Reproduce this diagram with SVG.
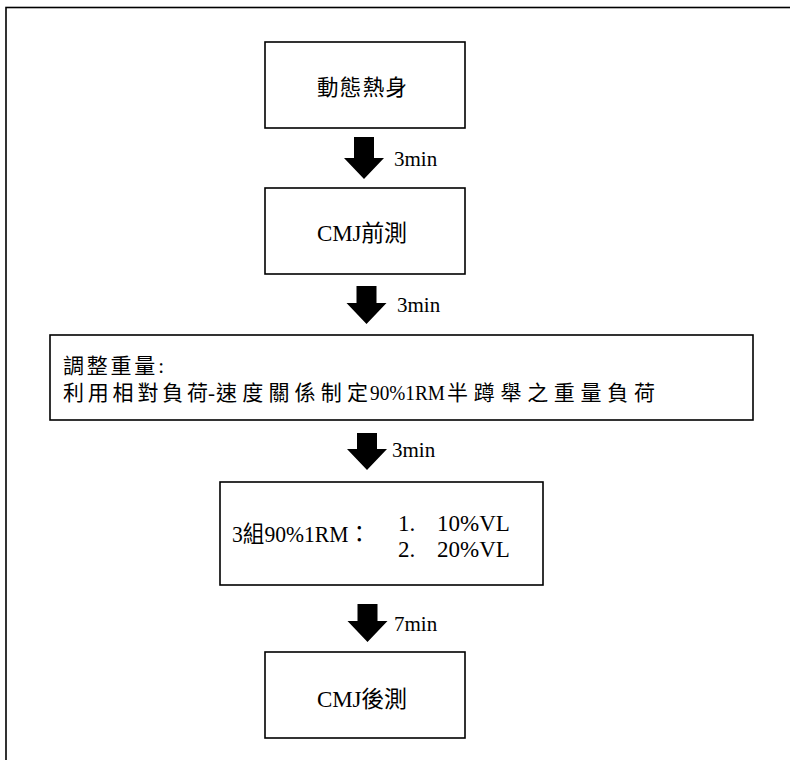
<svg xmlns="http://www.w3.org/2000/svg" width="790" height="760" viewBox="0 0 790 760">
<style>
.box{fill:#fff;stroke:#000;stroke-width:1.6}
.t{font-family:"Liberation Serif","Noto Sans CJK TC",serif;fill:#000}
.lbl{font-family:"Liberation Serif","Noto Sans CJK TC",serif;font-size:21px;fill:#000}
.arr{fill:#000}
</style>
<rect x="0" y="0" width="790" height="760" fill="#fff"/>
<rect x="6" y="7.5" width="800" height="800" fill="none" stroke="#000" stroke-width="1.6"/>
<g id="connectors">
<path class="arr" d="M354,137 H374 V158 H384 L364,179 L344,158 H354 Z"/>
<path class="arr" d="M356.5,286 H376.5 V303 H386.5 L366.5,324 L346.5,303 H356.5 Z"/>
<path class="arr" d="M357,433 H377 V449 H387 L367,470 L347,449 H357 Z"/>
<path class="arr" d="M357.5,604 H377.5 V621 H387.5 L367.5,642 L347.5,621 H357.5 Z"/>
<text class="lbl" x="394" y="166">3min</text>
<text class="lbl" x="397" y="312">3min</text>
<text class="lbl" x="392" y="457">3min</text>
<text class="lbl" x="394" y="631">7min</text>
</g>
<g id="n1">
<rect class="box" x="265" y="42" width="200" height="86"/>
<text class="t" x="317" y="95" font-size="21.5" textLength="90" lengthAdjust="spacing">動態熱身</text>
</g>
<g id="n2">
<rect class="box" x="265" y="188" width="200" height="86"/>
<text class="t" x="317" y="241" font-size="23" textLength="90" lengthAdjust="spacing">CMJ前測</text>
</g>
<g id="n3">
<rect class="box" x="50" y="335" width="703" height="85"/>
<text class="t" x="63" y="373" font-size="21" textLength="101" lengthAdjust="spacing">調整重量:</text>
<text class="t" y="400" font-size="21"><tspan x="63" textLength="145" lengthAdjust="spacing">利用相對負荷</tspan><tspan x="208">-</tspan><tspan x="216" textLength="152" lengthAdjust="spacing">速度關係制定</tspan><tspan x="370" font-size="20" textLength="75" lengthAdjust="spacingAndGlyphs">90%1RM</tspan><tspan x="447" textLength="208" lengthAdjust="spacing">半蹲舉之重量負荷</tspan></text>
</g>
<g id="n4">
<rect class="box" x="220" y="482" width="323" height="103"/>
<text class="t" x="232" y="542" font-size="23" textLength="138" lengthAdjust="spacingAndGlyphs">3組90%1RM：</text>
<text class="t" x="398" y="531" font-size="23">1.</text>
<text class="t" x="437" y="531" font-size="23">10%VL</text>
<text class="t" x="398" y="557" font-size="23">2.</text>
<text class="t" x="437" y="557" font-size="23">20%VL</text>
</g>
<g id="n5">
<rect class="box" x="265" y="652" width="200" height="86"/>
<text class="t" x="317" y="707" font-size="23" textLength="90" lengthAdjust="spacing">CMJ後測</text>
</g>
</svg>
